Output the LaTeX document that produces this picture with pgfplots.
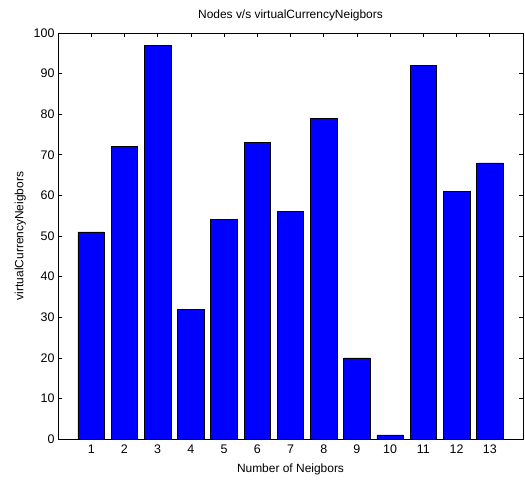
\documentclass[border=0pt]{standalone}
\usepackage{pgfplots}
\pgfplotsset{compat=1.18}
\usepackage{fontspec}
\setmainfont{Liberation Sans}
\begin{document}
\begin{tikzpicture}
\begin{axis}[name=ax,
  scale only axis, width=465bp, height=406bp,
  xmin=0, xmax=14, ymin=0, ymax=100,
  xtick={1,...,13}, ytick={0,10,...,100},
  tick align=inside, major tick length=4bp,
  tick style={black, line width=0.6pt},
  axis line style={black, line width=0.8pt},
  ticklabel style={font=\fontsize{12.5}{14}\selectfont},
  /pgf/number format/assume math mode=true,
  xticklabel style={yshift=-2bp},
  title={Nodes v/s virtualCurrencyNeigbors},
  title style={font=\fontsize{12}{14}\selectfont, yshift=3bp},
  xlabel={Number of Neigbors}, ylabel={virtualCurrencyNeigbors},
  label style={font=\fontsize{12}{14}\selectfont},
  xlabel style={yshift=-4bp}, ylabel style={yshift=1bp},
]
\addplot[ybar, bar width=0.8, fill={rgb,255:red,0;green,0;blue,255}, draw=black, line width=0.6pt] coordinates {
(1,51) (2,72) (3,97) (4,32) (5,54) (6,73) (7,56) (8,79) (9,20) (10,1) (11,92) (12,61) (13,68)};
\end{axis}
\pgfresetboundingbox
\path[use as bounding box] ([xshift=-58bp,yshift=-44bp]ax.south west) rectangle ([xshift=2bp,yshift=33bp]ax.north east);
\end{tikzpicture}
\end{document}
